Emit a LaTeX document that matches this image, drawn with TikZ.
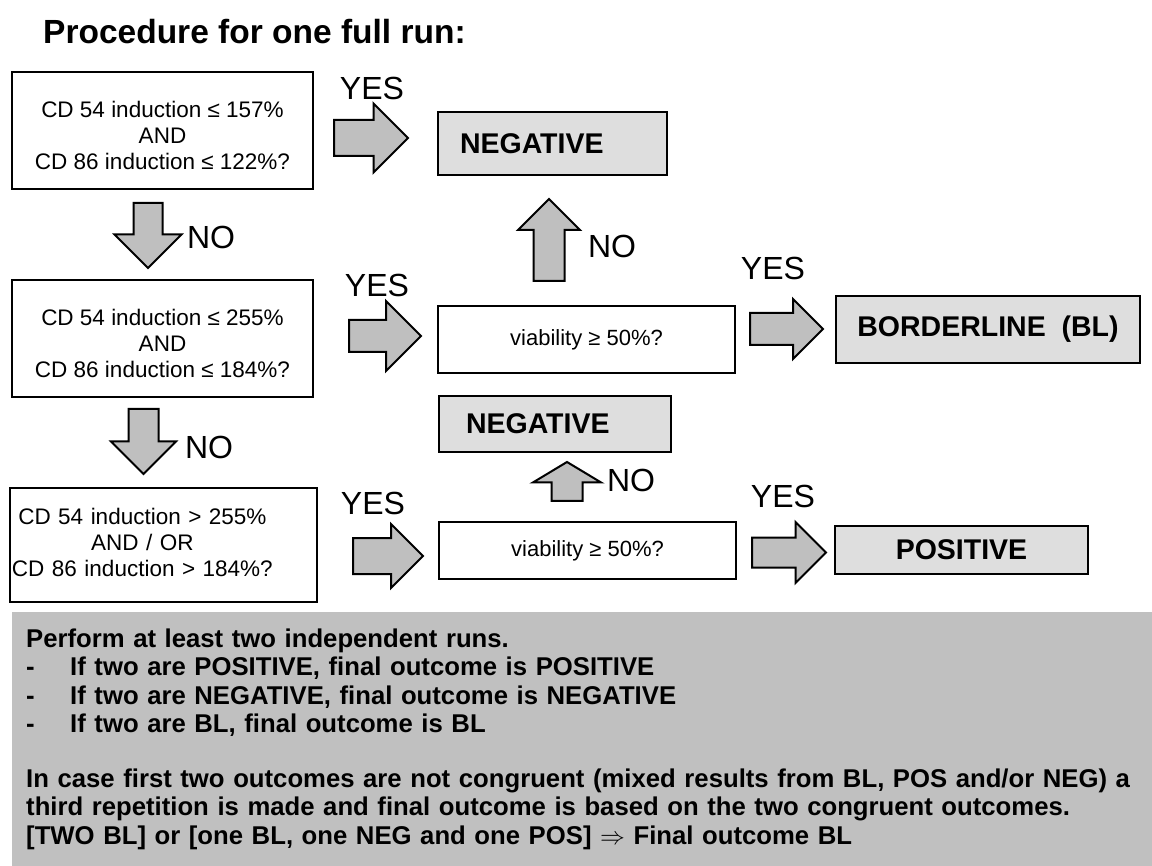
\documentclass[tikz,border=0pt]{standalone}
\usepackage{fontspec}
\setmainfont{Liberation Sans}
\usetikzlibrary{shapes.arrows}
\definecolor{resultgray}{RGB}{222,222,222}
\definecolor{arrowgray}{RGB}{191,191,191}
\definecolor{panelgray}{RGB}{192,192,192}

\begin{document}
\begin{tikzpicture}[x=1pt, y=-1pt,
    question/.style ={rectangle, draw, line width=2.5pt, align=center,
      font=\fontsize{22.5}{26}\selectfont},
    viability/.style ={rectangle, draw, line width=2.5pt, minimum width=297pt,
      font=\fontsize{22}{26}\selectfont},
    outcome/.style ={rectangle, draw, line width=2.5pt, fill=resultgray,
      font=\fontsize{28.5}{34}\selectfont\bfseries},
    bigarrow/.style ={single arrow, draw, line width=2pt, fill=arrowgray, inner xsep=0pt, anchor=tail},
    answer/.style ={inner sep=0pt, font=\fontsize{32}{38}\selectfont}]
   \useasboundingbox (0,0) rectangle (1152,866);
   \node[anchor=base west, inner sep=0pt, font=\fontsize{33.5}{40}\selectfont\bfseries] (T) at (43,44) {Procedure for one full run:};
   % left column
   \node[question, minimum width=301pt, minimum height=117pt] (Q1) at (162.5,130.5) {\rule{0pt}{26pt}CD 54 induction ≤ 157\%\\AND\\CD 86 induction ≤ 122\%?};
   \node[question, minimum width=301pt, minimum height=117pt] (Q2) at (162.5,338.5) {\rule{0pt}{26pt}CD 54 induction ≤ 255\%\\AND\\CD 86 induction ≤ 184\%?};
   \node[question, align=left, text width=303pt, inner xsep=2pt, minimum height=114pt] (Q3) at (163.5,545)
     {\begin{tabular}{@{}c@{}}CD 54 induction > 255\%\\AND / OR\\CD 86 induction > 184\%?\end{tabular}};
   % viability checks
   \node[viability, minimum height=67pt] (V1) at (586.5,339.5) {viability ≥ 50\%?};
   \node[viability, minimum height=57pt] (V2) at (587.5,550.5) {viability ≥ 50\%?};
   % outcomes
   \node[outcome, align=left, text width=185pt, inner xsep=22pt, minimum height=63pt] (N1) at (552.5,143.5) {NEGATIVE};
   \node[outcome, align=left, text width=178pt, inner xsep=27pt, minimum height=56pt] (N2) at (555,424) {NEGATIVE};
   \node[outcome, minimum width=304pt, minimum height=67pt] (BL) at (988,329.5) {BORDERLINE~~(BL)};
   \node[outcome, minimum width=253pt, minimum height=48pt] (P) at (961.5,550) {POSITIVE};
   % block arrows
   \node[bigarrow, minimum height=74pt, inner ysep=17pt, single arrow head extend=16.5pt] (A1) at (333,138) {};
   \node[bigarrow, rotate=-90, minimum height=65pt, inner ysep=13.5pt, single arrow head extend=19pt] (A2) at (148,202) {};
   \node[bigarrow, minimum height=72pt, inner ysep=15pt, single arrow head extend=19pt] (A3) at (348,336) {};
   \node[bigarrow, rotate=90, minimum height=82pt, inner ysep=14.5pt, single arrow head extend=15.5pt] (A4) at (549,282) {};
   \node[bigarrow, minimum height=73pt, inner ysep=15pt, single arrow head extend=14pt] (A5) at (749,329) {};
   \node[bigarrow, rotate=-90, minimum height=65pt, inner ysep=14pt, single arrow head extend=17.5pt] (A6) at (143.5,408) {};
   \node[bigarrow, rotate=90, minimum height=39pt, inner ysep=14.5pt, single arrow head extend=18.5pt, single arrow tip angle=118] (A7) at (567,502) {};
   \node[bigarrow, minimum height=70pt, inner ysep=17pt, single arrow head extend=14pt] (A8) at (352,556) {};
   \node[bigarrow, minimum height=74pt, inner ysep=14pt, single arrow head extend=15.5pt] (A9) at (751,552.5) {};
   % answers
   \node[answer] (Y1) at (372,88) {YES};
   \node[answer] (N1a) at (211,237) {NO};
   \node[answer] (Y2) at (377,285) {YES};
   \node[answer] (N2a) at (612,246) {NO};
   \node[answer] (Y3) at (773,268) {YES};
   \node[answer] (N3a) at (209,447) {NO};
   \node[answer] (N4a) at (631,480) {NO};
   \node[answer] (Y4) at (373,503) {YES};
   \node[answer] (Y5) at (783,496) {YES};
   % summary panel
   \node[anchor=north west, fill=panelgray, minimum width=1140pt, minimum height=254pt,
     text width=1112pt, inner xsep=14pt, align=left,
     font=\fontsize{25.7}{28.3}\selectfont\bfseries] (R) at (12,612)
     {Perform at least two independent runs.\\
      \makebox[44pt][l]{-}If two are POSITIVE, final outcome is POSITIVE\\
      \makebox[44pt][l]{-}If two are NEGATIVE, final outcome is NEGATIVE\\
      \makebox[44pt][l]{-}If two are BL, final outcome is BL\\[27pt]
      \mbox{In case first two outcomes are not congruent (mixed results from BL, POS and/or NEG) a}\\
      third repetition is made and final outcome is based on the two congruent outcomes.\\
      {[}TWO BL{]} or {[}one BL, one NEG and one POS{]} $\Rightarrow$ Final outcome BL};
\end{tikzpicture}
\end{document}
